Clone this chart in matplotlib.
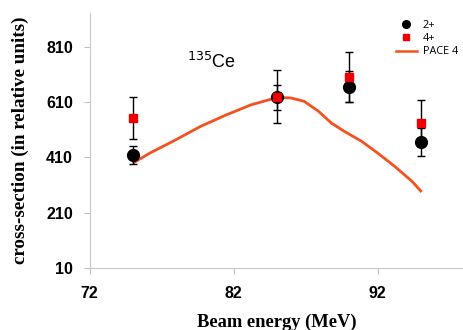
import matplotlib
matplotlib.use("Agg")
import matplotlib.pyplot as plt
from matplotlib.lines import Line2D

# Data
energy = [75, 85, 90, 95]
y2 = [420, 627, 665, 465]
y2_err = [33, 45, 56, 50]
y4 = [552, 630, 701, 536]
y4_err = [75, 95, 90, 80]

pace_x = [75.0, 76.2, 78.0, 79.7, 81.5, 83.2, 84.7, 85.0, 86.0, 86.9,
          87.9, 88.8, 89.7, 90.9, 92.0, 93.2, 94.4, 95.06]
pace_y = [389, 426, 474, 522, 564, 600, 622, 627, 625, 613,
          577, 534, 504, 468, 426, 377, 323, 285]

xticks = [72, 82, 92]
yticks = [10, 210, 410, 610, 810]

fig = plt.figure(figsize=(4.64, 3.30), dpi=100)
ax = fig.add_axes([0.193, 0.188, 0.807, 0.773])

ax.plot(pace_x, pace_y, color='#f4511e', lw=2.0, zorder=2,
        solid_joinstyle='round', solid_capstyle='butt')
ax.errorbar(energy, y2, yerr=y2_err, fmt='o', color='black', ms=8.5,
            ecolor='black', elinewidth=1.0, capsize=3, capthick=1.0, zorder=3)
ax.errorbar(energy, y4, yerr=y4_err, fmt='s', color='#ee0000', ms=6,
            ecolor='black', elinewidth=1.0, capsize=3, capthick=1.0, zorder=4)

ax.set_xlim(72, 98)
ax.set_ylim(10, 933)
ax.set_xticks(xticks)
ax.set_yticks(yticks)
for lab in ax.get_xticklabels() + ax.get_yticklabels():
    lab.set_fontfamily('Liberation Sans')
    lab.set_fontweight('bold')
    lab.set_fontsize(11.5)
ax.tick_params(axis='both', colors='#c0c0c0', length=4, width=0.8, labelcolor='black')
ax.tick_params(axis='x', pad=9)
ax.tick_params(axis='y', pad=8)
for s in ['top', 'right']:
    ax.spines[s].set_visible(False)
for s in ['left', 'bottom']:
    ax.spines[s].set_color('#c8c8c8')
    ax.spines[s].set_linewidth(0.8)

ax.set_xlabel('Beam energy (MeV)', fontfamily='Liberation Serif', fontweight='bold', fontsize=13.3, labelpad=9)
ax.set_ylabel('cross-section (in relative units)', fontfamily='Liberation Serif', fontweight='bold', fontsize=13.7, labelpad=12)

ax.text(78.8, 735, r'$^{135}$Ce', fontfamily='Liberation Sans', fontsize=13)

handles = [
    Line2D([], [], ls='none', marker='o', color='black', ms=5.5),
    Line2D([], [], ls='none', marker='s', color='#ee0000', ms=5),
    Line2D([], [], color='#f4511e', lw=1.8),
]
ax.legend(handles, ['2+', '4+', 'PACE 4'], loc='upper right',
          bbox_to_anchor=(1.01, 1.01), frameon=False,
          prop={'family': 'Open Sans', 'size': 7.8}, handlelength=2.0,
          labelspacing=0.2, handletextpad=0.5)

fig.savefig('out.png', dpi=100)
